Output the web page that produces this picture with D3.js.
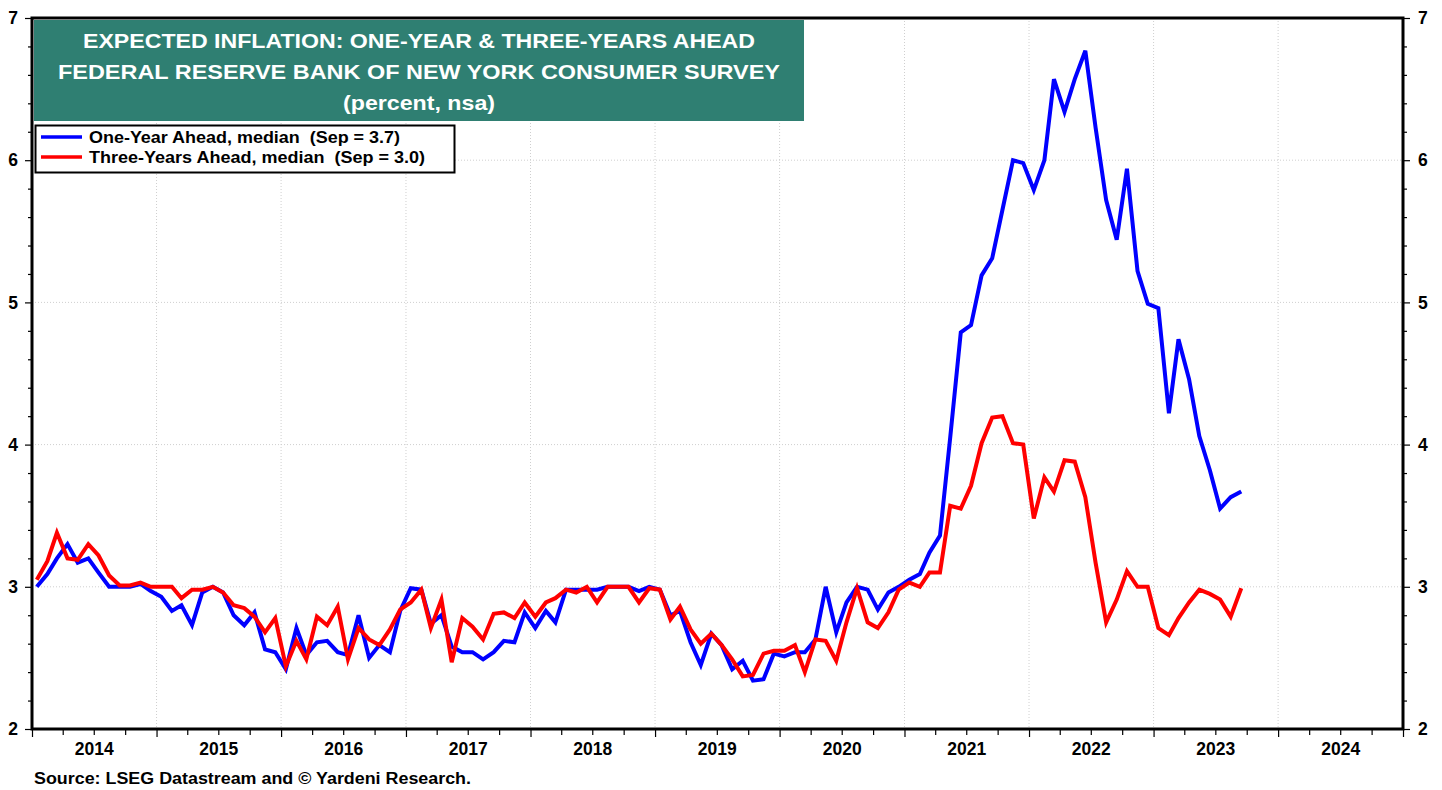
<!DOCTYPE html>
<html>
<head>
<meta charset="utf-8">
<script src="https://cdn.jsdelivr.net/npm/d3@7"></script>
<style>
  body { margin: 0; background: #fff; }
  svg text { font-family: "Liberation Sans", Arial, sans-serif; font-weight: bold; }
</style>
</head>
<body>
<div id="chart"></div>
<script>
// Monthly survey medians, Jan 2014 .. Sep 2023 (percent)
var oneYearAhead = [
  3.00, 3.09, 3.20, 3.30, 3.17, 3.20, 3.10, 3.00, 3.00, 3.00, 3.02, 2.97,
  2.93, 2.83, 2.87, 2.73, 2.96, 3.00, 2.96, 2.80, 2.73, 2.82, 2.56, 2.54,
  2.42, 2.71, 2.52, 2.61, 2.62, 2.54, 2.52, 2.80, 2.50, 2.59, 2.54, 2.83,
  2.99, 2.98, 2.74, 2.80, 2.58, 2.54, 2.54, 2.49, 2.54, 2.62, 2.61, 2.82,
  2.71, 2.83, 2.75, 2.98, 2.98, 2.98, 2.98, 3.00, 3.00, 3.00, 2.97, 3.00,
  2.98, 2.80, 2.83, 2.61, 2.45, 2.67, 2.59, 2.42, 2.48, 2.34, 2.35, 2.53,
  2.51, 2.54, 2.54, 2.63, 3.00, 2.68, 2.89, 3.00, 2.98, 2.84, 2.96, 3.00,
  3.05, 3.09, 3.24, 3.36, 4.05, 4.79, 4.84, 5.19, 5.31, 5.65, 6.00, 5.98,
  5.79, 6.00, 6.57, 6.34, 6.57, 6.77, 6.23, 5.72, 5.44, 5.94, 5.22, 4.99,
  4.96, 4.22, 4.74, 4.46, 4.06, 3.82, 3.55, 3.63, 3.67
];
var threeYearsAhead = [
  3.05, 3.18, 3.38, 3.20, 3.19, 3.30, 3.22, 3.08, 3.01, 3.01, 3.03, 3.00,
  3.00, 3.00, 2.92, 2.98, 2.98, 3.00, 2.96, 2.87, 2.85, 2.79, 2.68, 2.78,
  2.44, 2.62, 2.49, 2.79, 2.73, 2.86, 2.49, 2.71, 2.63, 2.59, 2.70, 2.84,
  2.89, 2.98, 2.71, 2.91, 2.47, 2.78, 2.72, 2.63, 2.81, 2.82, 2.78, 2.89,
  2.79, 2.89, 2.92, 2.98, 2.96, 3.00, 2.89, 3.00, 3.00, 3.00, 2.89, 2.99,
  2.98, 2.77, 2.86, 2.70, 2.60, 2.67, 2.59, 2.49, 2.37, 2.38, 2.53, 2.55,
  2.55, 2.59, 2.40, 2.63, 2.62, 2.48, 2.75, 2.99, 2.75, 2.71, 2.82, 2.98,
  3.03, 3.00, 3.10, 3.10, 3.57, 3.55, 3.71, 4.01, 4.19, 4.20, 4.01, 4.00,
  3.48, 3.77, 3.67, 3.89, 3.88, 3.63, 3.17, 2.75, 2.91, 3.11, 3.00, 3.00,
  2.71, 2.66, 2.78, 2.89, 2.98, 2.95, 2.91, 2.79, 2.99
];
var years = [2014, 2015, 2016, 2017, 2018, 2019, 2020, 2021, 2022, 2023, 2024];
var yTickValues = [2, 3, 4, 5, 6, 7];
var titleLines = [
  "EXPECTED INFLATION: ONE-YEAR & THREE-YEARS AHEAD",
  "FEDERAL RESERVE BANK OF NEW YORK CONSUMER SURVEY",
  "(percent, nsa)"
];
var legendLabels = [
  "One-Year Ahead, median  (Sep = 3.7)",
  "Three-Years Ahead, median  (Sep = 3.0)"
];
var seriesColors = ["#0000ff", "#ff0000"];

var svgWidth = 1442, svgHeight = 790;
var plotLeft = 32, plotRight = 1403, plotTop = 18, plotBottom = 729;

var svg = d3.select("#chart").append("svg")
  .attr("width", svgWidth)
  .attr("height", svgHeight);

var x = d3.scaleTime()
  .domain([new Date(2014, 0, 1), new Date(2025, 0, 1)])
  .range([plotLeft, plotRight]);
var y = d3.scaleLinear()
  .domain([2, 7])
  .range([plotBottom, plotTop]);

// mid-month dates for the monthly observations
var months = oneYearAhead.map(function (d, i) { return new Date(2014, i, 15); });

// gridlines
svg.append("g").selectAll("line")
  .data(yTickValues.slice(1, -1))
  .enter().append("line")
  .attr("x1", plotLeft).attr("x2", plotRight)
  .attr("y1", function (d) { return y(d); })
  .attr("y2", function (d) { return y(d); })
  .attr("stroke", "#cfcfcf").attr("stroke-dasharray", "1,2");
svg.append("g").selectAll("line")
  .data(years.slice(1))
  .enter().append("line")
  .attr("x1", function (d) { return x(new Date(d, 0, 1)); })
  .attr("x2", function (d) { return x(new Date(d, 0, 1)); })
  .attr("y1", plotTop).attr("y2", plotBottom)
  .attr("stroke", "#cfcfcf").attr("stroke-dasharray", "1,2");

// y axes (ticks every 0.2, labels on integers)
var minorY = d3.range(20, 71, 2).map(function (d) { return d / 10; });
function isMajor(d) { return Math.abs(d - Math.round(d)) < 1e-6; }
function yFmt(d) { return isMajor(d) ? d3.format("d")(d) : ""; }

var yLeft = svg.append("g")
  .attr("transform", "translate(" + plotLeft + ",0)")
  .call(d3.axisLeft(y).tickValues(minorY).tickSize(7).tickPadding(7).tickFormat(yFmt));
var yRight = svg.append("g")
  .attr("transform", "translate(" + plotRight + ",0)")
  .call(d3.axisRight(y).tickValues(minorY).tickSize(7).tickPadding(8).tickFormat(yFmt));
yLeft.selectAll(".tick line").attr("x2", function (d) { return isMajor(d) ? -7 : -4; });
yRight.selectAll(".tick line").attr("x2", function (d) { return isMajor(d) ? 7 : 4; });

// x axis: quarterly ticks, year labels centred
var xAxis = svg.append("g")
  .attr("transform", "translate(0," + plotBottom + ")")
  .call(d3.axisBottom(x).ticks(d3.timeMonth.every(3)).tickSize(6).tickFormat(""));
xAxis.selectAll(".tick line").attr("y2", function (d) { return d.getMonth() === 0 ? 8 : 6; });
var xLabels = svg.append("g")
  .attr("transform", "translate(0," + plotBottom + ")")
  .call(d3.axisBottom(x)
    .tickValues(years.map(function (d) { return new Date(d, 6, 1); }))
    .tickSize(0).tickPadding(14)
    .tickFormat(d3.timeFormat("%Y")));

[yLeft, yRight, xAxis, xLabels].forEach(function (g) {
  g.select(".domain").remove();
  g.selectAll(".tick line").attr("stroke", "#000").attr("stroke-width", 1.2);
  g.selectAll("text").attr("fill", "#000").attr("font-size", 17.5);
});

// series
var line = d3.line()
  .x(function (d, i) { return x(months[i]); })
  .y(function (d) { return y(d); });

[oneYearAhead, threeYearsAhead].forEach(function (series, k) {
  svg.append("path")
    .datum(series)
    .attr("fill", "none")
    .attr("stroke", seriesColors[k])
    .attr("stroke-width", 4)
    .attr("d", line);
});

// frame
svg.append("rect")
  .attr("x", plotLeft).attr("y", plotTop)
  .attr("width", plotRight - plotLeft).attr("height", plotBottom - plotTop)
  .attr("fill", "none").attr("stroke", "#000").attr("stroke-width", 3);

// title box
var titleWidths = [672, 722, 152];
svg.append("rect")
  .attr("x", 34).attr("y", 20).attr("width", 770).attr("height", 101)
  .attr("fill", "#2f7f72");
svg.append("g").selectAll("text")
  .data(titleLines)
  .enter().append("text")
  .attr("x", 419)
  .attr("y", function (d, i) { return 48 + i * 31; })
  .attr("text-anchor", "middle")
  .attr("font-size", 21)
  .attr("textLength", function (d, i) { return titleWidths[i]; })
  .attr("lengthAdjust", "spacingAndGlyphs")
  .attr("fill", "#fff")
  .text(function (d) { return d; });

// legend
var legendWidths = [311, 336];
var legend = svg.append("g");
legend.append("rect")
  .attr("x", 35.5).attr("y", 125.5).attr("width", 419).attr("height", 47)
  .attr("fill", "#fff").attr("stroke", "#000").attr("stroke-width", 2);
legendLabels.forEach(function (label, k) {
  var ly = 137 + k * 20;
  legend.append("line")
    .attr("x1", 41).attr("x2", 82)
    .attr("y1", ly).attr("y2", ly)
    .attr("stroke", seriesColors[k]).attr("stroke-width", 3.6);
  legend.append("text")
    .attr("x", 89).attr("y", ly + 6)
    .attr("font-size", 16)
    .attr("textLength", legendWidths[k])
    .attr("lengthAdjust", "spacingAndGlyphs")
    .style("white-space", "pre")
    .text(label);
});

// source
svg.append("text")
  .attr("x", 34).attr("y", 784)
  .attr("font-size", 16)
  .attr("textLength", 437)
  .attr("lengthAdjust", "spacingAndGlyphs")
  .text("Source: LSEG Datastream and \u00A9 Yardeni Research.");
</script>
</body>
</html>
